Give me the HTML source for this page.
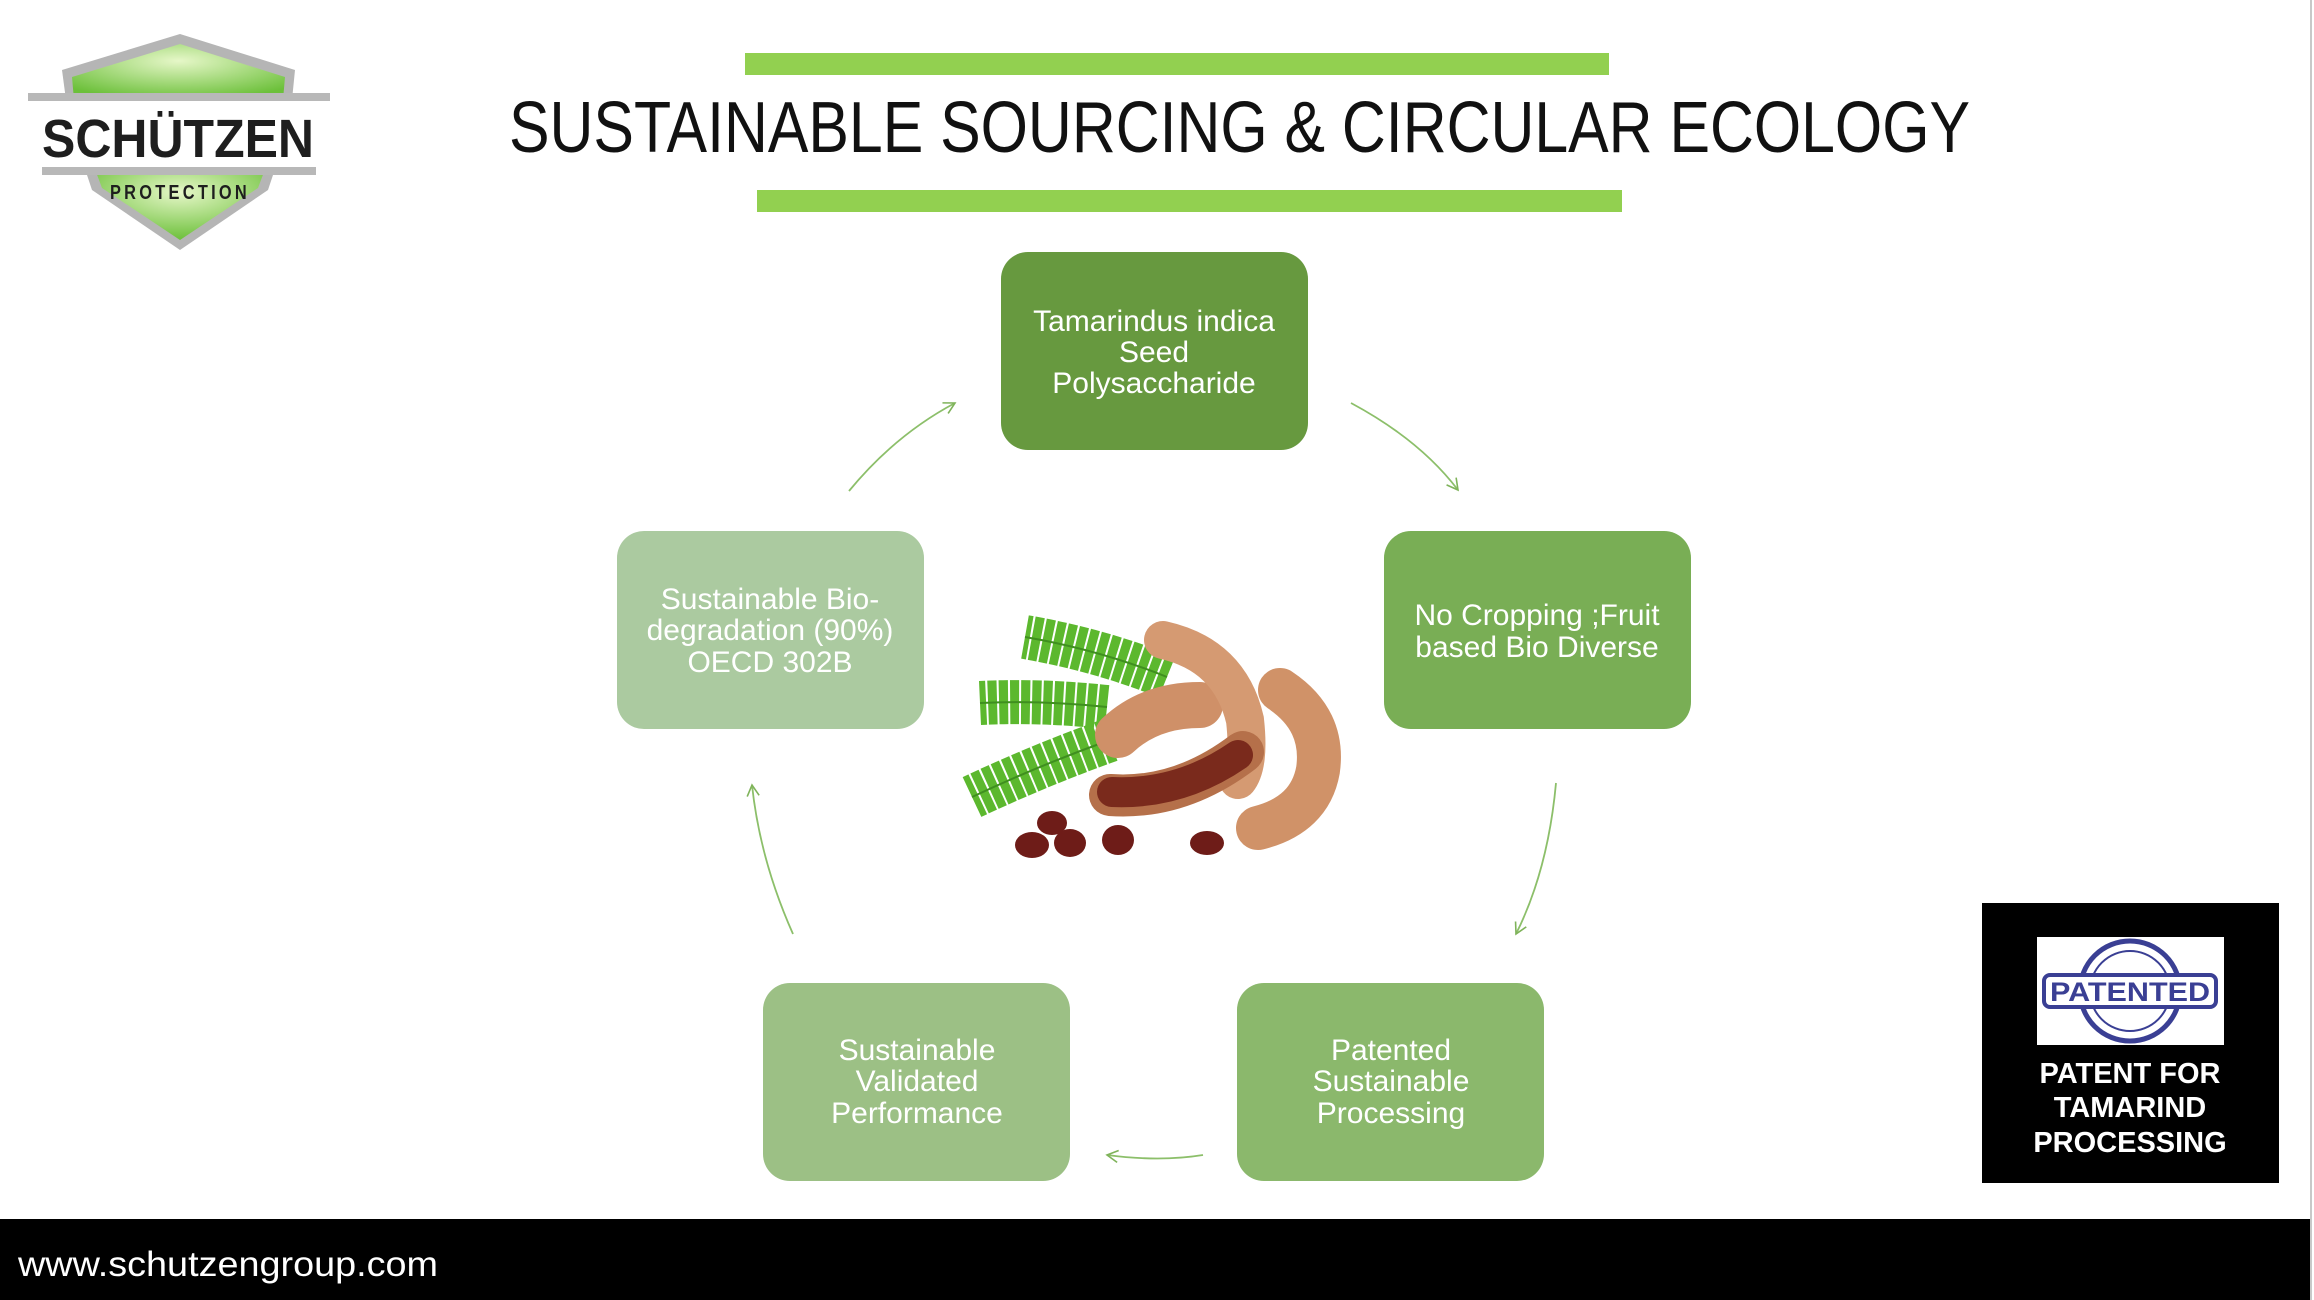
<!DOCTYPE html>
<html><head><meta charset="utf-8"><style>
html,body{margin:0;padding:0;background:#fff;}
svg{display:block;}
</style></head><body>
<svg width="2314" height="1300" viewBox="0 0 2314 1300" xmlns="http://www.w3.org/2000/svg" font-family="Liberation Sans, sans-serif">
<defs>
<marker id="ah" markerWidth="14" markerHeight="14" refX="12" refY="7" orient="auto" markerUnits="userSpaceOnUse">
<path d="M1,1 L12,7 L1,13" fill="none" stroke="#7fb35a" stroke-width="1.6"/>
</marker>
<radialGradient id="sg" cx="0.5" cy="0.3" r="0.7"><stop offset="0" stop-color="#e6f7c8"/><stop offset="1" stop-color="#6cc03a"/></radialGradient>
</defs>
<rect width="2314" height="1300" fill="#fff"/>
<line x1="2311" y1="0" x2="2311" y2="1300" stroke="#c8c8c8" stroke-width="2"/>

<!-- logo -->
<path d="M62,70 L180,34 L295,70 L292,100 L66,100 Z" fill="#b5b5b5"/>
<path d="M72,77 L180,44 L285,77 L283,100 L74,100 Z" fill="url(#sg)"/>
<path d="M86,172 L274,172 L268,190 L180,250 L92,190 Z" fill="#b5b5b5"/>
<path d="M96,172 L264,172 L258,188 L180,240 L102,188 Z" fill="url(#sg)"/>
<rect x="28" y="93" width="302" height="8" fill="#b8b8b8"/>
<rect x="34" y="101" width="290" height="66" fill="#fff"/>
<rect x="42" y="167" width="274" height="8" fill="#b8b8b8"/>
<text x="178" y="157" text-anchor="middle" font-size="54" font-weight="bold" fill="#1e1e1e" textLength="272" lengthAdjust="spacingAndGlyphs">SCHÜTZEN</text>
<text x="180" y="199" text-anchor="middle" font-size="20" font-weight="bold" fill="#1e1e1e" letter-spacing="4" textLength="140" lengthAdjust="spacingAndGlyphs">PROTECTION</text>

<!-- title -->
<rect x="745" y="53" width="864" height="22" fill="#92d050"/>
<rect x="757" y="190" width="865" height="22" fill="#92d050"/>
<text x="509" y="152" font-size="72" fill="#111" textLength="1461" lengthAdjust="spacingAndGlyphs">SUSTAINABLE SOURCING &amp; CIRCULAR ECOLOGY</text>

<!-- boxes -->
<g font-size="30" fill="#fff" text-anchor="middle">
<rect x="1001" y="252" width="307" height="198" rx="27" fill="#67993f"/>
<text x="1154" y="331">Tamarindus indica</text>
<text x="1154" y="362">Seed</text>
<text x="1154" y="393">Polysaccharide</text>

<rect x="1384" y="531" width="307" height="198" rx="27" fill="#79ae55"/>
<text x="1537" y="625">No Cropping ;Fruit</text>
<text x="1537" y="657">based Bio Diverse</text>

<rect x="1237" y="983" width="307" height="198" rx="27" fill="#8bb86c"/>
<text x="1391" y="1060">Patented</text>
<text x="1391" y="1091">Sustainable</text>
<text x="1391" y="1123">Processing</text>

<rect x="763" y="983" width="307" height="198" rx="27" fill="#9cc085"/>
<text x="917" y="1060">Sustainable</text>
<text x="917" y="1091">Validated</text>
<text x="917" y="1123">Performance</text>

<rect x="617" y="531" width="307" height="198" rx="27" fill="#abcaa0"/>
<text x="770" y="609">Sustainable Bio-</text>
<text x="770" y="640">degradation (90%)</text>
<text x="770" y="672">OECD 302B</text>
</g>

<!-- arrows -->
<g fill="none" stroke="#8cbf6a" stroke-width="1.8">
<path d="M1351,403 Q1420,440 1458,490" marker-end="url(#ah)"/>
<path d="M1556,783 Q1548,870 1516,934" marker-end="url(#ah)"/>
<path d="M1203,1155 Q1160,1162 1107,1155" marker-end="url(#ah)"/>
<path d="M793,934 Q760,860 752,785" marker-end="url(#ah)"/>
<path d="M849,491 Q895,435 955,403" marker-end="url(#ah)"/>
</g>

<!-- tamarind illustration -->
<g fill="none">
<g stroke="#5cb82e" stroke-width="44" stroke-dasharray="9 2" stroke-linecap="butt">
<path d="M1167,677 Q1100,650 1025,637"/>
<path d="M1107,707 Q1040,700 980,703"/>
<path d="M1110,740 Q1040,765 972,797"/>
</g>
<g stroke="#3f8f1f" stroke-width="2">
<path d="M1167,677 Q1100,650 1025,637"/>
<path d="M1107,707 Q1040,700 980,703"/>
<path d="M1110,740 Q1040,765 972,797"/>
</g>
</g>
<g stroke-linecap="round" fill="none">
<path d="M1118,735 Q1150,705 1200,705" stroke="#cf9068" stroke-width="46"/>
<path d="M1163,640 Q1230,655 1245,720 Q1250,765 1238,780" stroke="#d59a72" stroke-width="38"/>
<path d="M1280,690 Q1325,720 1318,770 Q1310,815 1258,828" stroke="#d09268" stroke-width="44"/>
<path d="M1110,795 Q1180,800 1243,752" stroke="#b5704a" stroke-width="42"/>
<path d="M1112,792 Q1180,795 1238,755" stroke="#7a2a1c" stroke-width="30"/>
</g>
<g fill="#6e1c18">
<ellipse cx="1032" cy="845" rx="17" ry="13"/>
<ellipse cx="1052" cy="823" rx="15" ry="12"/>
<ellipse cx="1070" cy="843" rx="16" ry="14"/>
<ellipse cx="1118" cy="840" rx="16" ry="15"/>
<ellipse cx="1207" cy="843" rx="17" ry="12"/>
</g>

<!-- patent box -->
<rect x="1982" y="903" width="297" height="280" fill="#000"/>
<rect x="2037" y="937" width="187" height="108" fill="#fff"/>
<circle cx="2130" cy="991" r="50" fill="none" stroke="#3a3f94" stroke-width="5"/>
<circle cx="2130" cy="991" r="40" fill="none" stroke="#3a3f94" stroke-width="2"/>
<rect x="2044" y="975" width="172" height="32" rx="6" fill="#fff" stroke="#3a3f94" stroke-width="4"/>
<text x="2130" y="1001" text-anchor="middle" font-size="27" font-weight="bold" fill="#3a3f94" textLength="160" lengthAdjust="spacingAndGlyphs">PATENTED</text>
<g font-size="29" font-weight="bold" fill="#fff" text-anchor="middle">
<text x="2130" y="1083">PATENT FOR</text>
<text x="2130" y="1117">TAMARIND</text>
<text x="2130" y="1152">PROCESSING</text>
</g>

<!-- footer -->
<rect x="0" y="1219" width="2310" height="81" fill="#000"/>
<text x="18" y="1276" font-size="35" fill="#fff" textLength="420" lengthAdjust="spacingAndGlyphs">www.schutzengroup.com</text>
</svg>
</body></html>
